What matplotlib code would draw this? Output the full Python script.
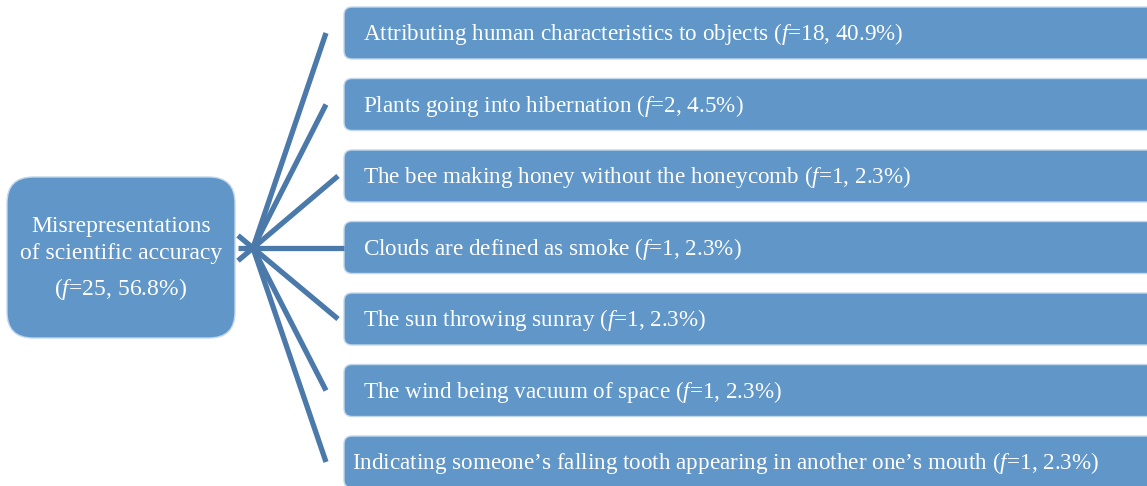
import matplotlib.pyplot as plt
from matplotlib.patches import FancyBboxPatch

plt.rcParams['mathtext.fontset'] = 'custom'
plt.rcParams['mathtext.rm'] = 'Liberation Serif'
plt.rcParams['mathtext.it'] = 'Liberation Serif:italic'

# data
main_label = ["Misrepresentations", "of scientific accuracy"]
main_f = 25
main_pct = 56.8
categories = [
    "Attributing human characteristics to objects",
    "Plants going into hibernation",
    "The bee making honey without the honeycomb",
    "Clouds are defined as smoke",
    "The sun throwing sunray",
    "The wind being vacuum of space",
    "Indicating someone\u2019s falling tooth appearing in another one\u2019s mouth",
]
freqs = [18, 2, 1, 1, 1, 1, 1]
pcts = [40.9, 4.5, 2.3, 2.3, 2.3, 2.3, 2.3]

fill = "#6096c8"
edge = "#c3d7ec"
line_col = "#4a79aa"
font = "Liberation Serif"

W, H = 1147, 486
fig = plt.figure(figsize=(W / 100, H / 100), dpi=100)
ax = fig.add_axes([0, 0, 1, 1])
ax.set_xlim(0, W)
ax.set_ylim(H, 0)
ax.axis("off")

# left box
ax.add_patch(FancyBboxPatch((7, 177), 228, 161, boxstyle="round,pad=0,rounding_size=26",
                            fc=fill, ec=edge, lw=1))
ax.text(121, 226, main_label[0], ha="center", va="center", color="white", fontsize=17, family=font)
ax.text(121, 253, main_label[1], ha="center", va="center", color="white", fontsize=17, family=font)
ax.text(121, 289, f"($\\mathit{{f}}$={main_f}, {main_pct}%)", ha="center", va="center",
        color="white", fontsize=17, family=font)

# right boxes and connectors
hub_x, hub_y = 253, 248
top, pitch, bh = 7, 71.5, 52
for i, (cat, f, p) in enumerate(zip(categories, freqs, pcts)):
    y0 = top + i * pitch
    cy = y0 + bh / 2
    ax.add_patch(FancyBboxPatch((344, y0), 860, bh, boxstyle="round,pad=0,rounding_size=8",
                                fc=fill, ec=edge, lw=1))
    tx = 352 if i == len(categories) - 1 else 363
    ax.text(tx, cy + 1, f"{cat} ($\\mathit{{f}}$={f}, {p}%)", ha="left", va="center",
            color="white", fontsize=16.7, family=font)

    if i in (2, 3, 4):
        ex = 344 if i == 3 else 338
        ey = hub_y if i == 3 else cy
        sx = 238
        sy = hub_y + (ey - hub_y) * (sx - hub_x) / (ex - hub_x)
    else:
        ex, ey = 326, cy
        sx, sy = hub_x, hub_y
    ax.plot([sx, ex], [sy, ey], color=line_col, lw=3.8, solid_capstyle="butt")

fig.savefig("out.png", dpi=100)
